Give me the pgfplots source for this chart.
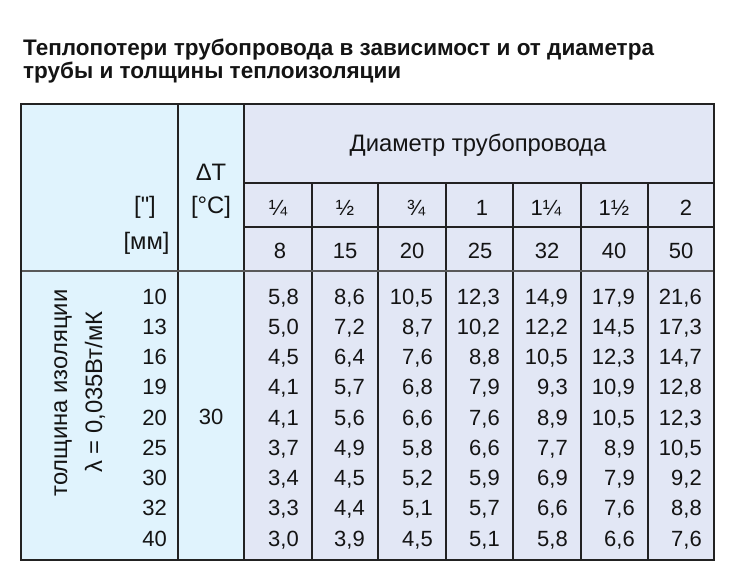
\documentclass[border=0pt]{standalone}
\usepackage{pgfplots}
\pgfplotsset{compat=1.18}
\usepackage{pgfplotstable}
\usepackage{fontspec}
\setmainfont{Liberation Sans}
\newfontfamily\rawfont[Ligatures=TeXOff]{Liberation Sans}
\definecolor{cyanL}{HTML}{E0F3FD}
\definecolor{lav}{HTML}{E2E7F5}
\definecolor{txt}{HTML}{141414}
\definecolor{grid}{HTML}{222222}
\newcommand\tabfont{\fontsize{22}{24}\selectfont}
\newcommand\hdfont{\fontsize{23.8}{26}\selectfont}
\tikzset{
  hd/.style={anchor=base, inner sep=0pt, font=\hdfont, text=txt},
  tb/.style={anchor=base, inner sep=0pt, font=\tabfont, text=txt},
}
\pgfplotstableread{
t c1 c2 c3 c4 c5 c6 c7
10 5.8 8.6 10.5 12.3 14.9 17.9 21.6
13 5.0 7.2 8.7 10.2 12.2 14.5 17.3
16 4.5 6.4 7.6 8.8 10.5 12.3 14.7
19 4.1 5.7 6.8 7.9 9.3 10.9 12.8
20 4.1 5.6 6.6 7.6 8.9 10.5 12.3
25 3.7 4.9 5.8 6.6 7.7 8.9 10.5
30 3.4 4.5 5.2 5.9 6.9 7.9 9.2
32 3.3 4.4 5.1 5.7 6.6 7.6 8.8
40 3.0 3.9 4.5 5.1 5.8 6.6 7.6
}\losses
\begin{document}
\begin{tikzpicture}
\begin{axis}[
  width=735pt, height=582pt, scale only axis,
  xmin=0, xmax=735, ymin=0, ymax=582, y dir=reverse,
  hide axis, clip=false,
  /pgf/number format/assume math mode=true,
  numcell/.style={draw=none, mark=none, point meta=explicit,
    nodes near coords={\pgfmathprintnumber[fixed,fixed zerofill,precision=1,use comma]{\pgfplotspointmeta}},
    every node near coord/.style={anchor=base east, inner sep=0pt, font=\tabfont, text=txt}},
]
% full page extent
\path (axis cs:0,0) rectangle (axis cs:735,582);
% backgrounds
\fill[cyanL] (axis cs:21,104) rectangle (axis cs:244,560);
\fill[lav] (axis cs:244,104) rectangle (axis cs:714,560);
% grid
\draw[grid, line width=1.8pt] (axis cs:178,104) -- (axis cs:178,560);
\draw[grid, line width=1.8pt] (axis cs:244,104) -- (axis cs:244,560);
\foreach \xx in {312,378,446,513,581,648}{
  \edef\tmp{\noexpand\draw[grid, line width=1.8pt] (axis cs:\xx,183) -- (axis cs:\xx,560);}\tmp
}
\draw[grid, line width=1.8pt] (axis cs:244,183) -- (axis cs:714,183);
\draw[grid, line width=1.8pt] (axis cs:244,227) -- (axis cs:714,227);
\draw[black!65, line width=2.6pt] (axis cs:21,271) -- (axis cs:714,271);
\draw[grid, line width=1.8pt] (axis cs:21,104) rectangle (axis cs:714,560);
% title
\node[anchor=base west, inner sep=0pt, font=\fontsize{22.5}{24}\selectfont\bfseries, text=txt] at (axis cs:23,55) {Теплопотери трубопровода в зависимост и от диаметра};
\node[anchor=base west, inner sep=0pt, font=\fontsize{22.5}{24}\selectfont\bfseries, text=txt] at (axis cs:23,78) {трубы и толщины теплоизоляции};
% header text
\node[hd] at (axis cs:478,151) {Диаметр трубопровода};
\node[hd] at (axis cs:211,180) {ΔT};
\node[hd] at (axis cs:211,213) {[°C]};
\node[hd] at (axis cs:145,213) {\rawfont ["]};
\node[hd] at (axis cs:146.5,249) {[мм]};
\node[tb] at (axis cs:278,215) {¼};
\node[tb] at (axis cs:345,215) {½};
\node[tb] at (axis cs:416,215) {¾};
\node[tb] at (axis cs:482,215) {1};
\node[tb] at (axis cs:546,215) {1¼};
\node[tb] at (axis cs:614,215) {1½};
\node[tb] at (axis cs:686,215) {2};
\node[tb] at (axis cs:280,258) {8};
\node[tb] at (axis cs:345,258) {15};
\node[tb] at (axis cs:412,258) {20};
\node[tb] at (axis cs:480,258) {25};
\node[tb] at (axis cs:547,258) {32};
\node[tb] at (axis cs:614,258) {40};
\node[tb] at (axis cs:681,258) {50};
% left rotated labels
\node[rotate=90, font=\hdfont, text=txt] at (axis cs:63,393) {толщина изоляции};
\node[rotate=90, font=\hdfont, text=txt] at (axis cs:95,392) {λ = 0,035Вт/мК};
\node[tb] at (axis cs:211,424) {30};
% thickness column
\addplot[draw=none, mark=none, point meta=explicit,
  nodes near coords={\pgfmathprintnumber{\pgfplotspointmeta}},
  every node near coord/.style={anchor=base east, inner sep=0pt, font=\tabfont, text=txt}]
  table[x expr=167, y expr=304+30.25*\coordindex, meta=t] {\losses};
% values
\addplot[numcell] table[x expr=299, y expr=304+30.25*\coordindex, meta=c1] {\losses};
\addplot[numcell] table[x expr=365, y expr=304+30.25*\coordindex, meta=c2] {\losses};
\addplot[numcell] table[x expr=433, y expr=304+30.25*\coordindex, meta=c3] {\losses};
\addplot[numcell] table[x expr=500, y expr=304+30.25*\coordindex, meta=c4] {\losses};
\addplot[numcell] table[x expr=568, y expr=304+30.25*\coordindex, meta=c5] {\losses};
\addplot[numcell] table[x expr=635, y expr=304+30.25*\coordindex, meta=c6] {\losses};
\addplot[numcell] table[x expr=702, y expr=304+30.25*\coordindex, meta=c7] {\losses};
\end{axis}
\end{tikzpicture}
\end{document}
